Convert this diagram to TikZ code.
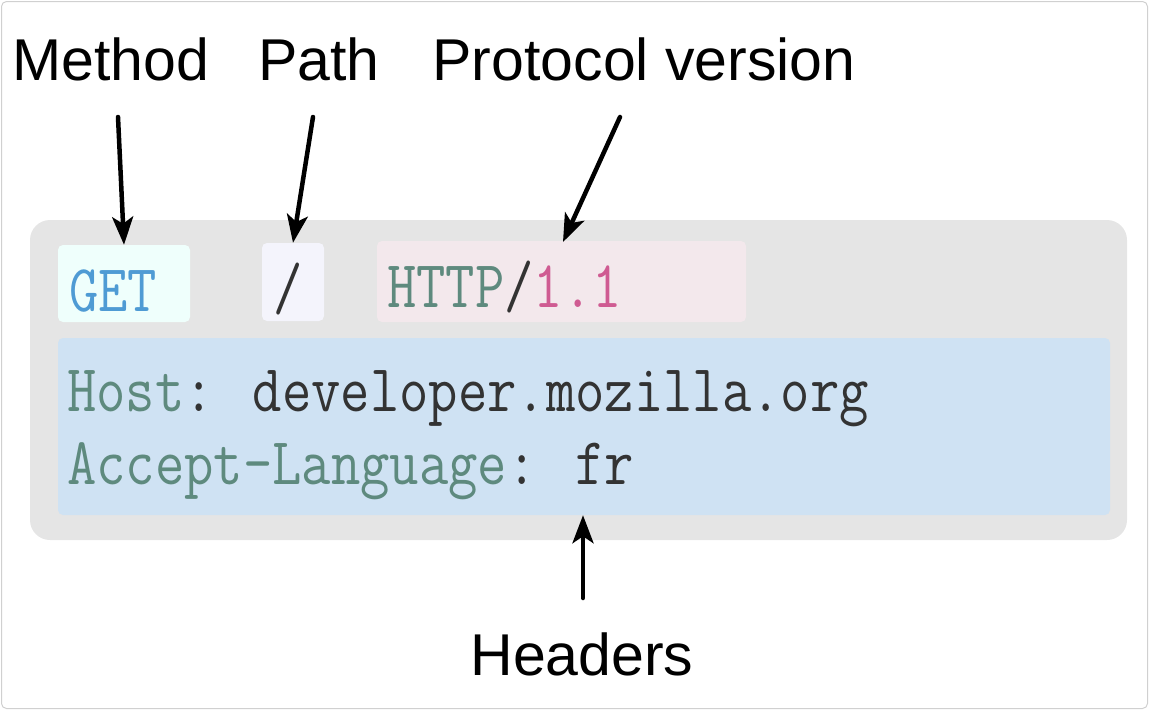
\documentclass[tikz,border=0pt]{standalone}
\usepackage{fontspec}
\usepackage{graphicx}
\usetikzlibrary{arrows.meta}
\setmainfont{Liberation Sans}
\definecolor{framegray}{HTML}{D0D0D0}
\definecolor{bggray}{HTML}{E5E5E5}
\definecolor{getfill}{HTML}{EFFFFC}
\definecolor{getblue}{HTML}{4F9BD4}
\definecolor{pathfill}{HTML}{F4F4FC}
\definecolor{protofill}{HTML}{F3E8EC}
\definecolor{keygreen}{HTML}{5E8A7E}
\definecolor{verpink}{HTML}{CF5B92}
\definecolor{hdrfill}{HTML}{CFE2F3}
\definecolor{valgray}{HTML}{333333}
\newcommand{\reqfont}[1]{\scalebox{0.85}[1]{\ttfamily\fontsize{67}{67}\selectfont #1}}
\begin{document}
\begin{tikzpicture}[x=1pt,y=-1pt,line join=round,line cap=round,>={Stealth[length=28pt,width=21pt,inset=7pt]}]
	\tikzset{every node/.style={inner sep=0pt},
		part/.style={rounded corners=5pt,draw=none},
		label/.style={font=\fontsize{59}{59}\selectfont,anchor=base},
		tag/.style={anchor=base west},
		pointer/.style={->,line width=4.5pt}}
	\useasboundingbox (0,0) rectangle (1149,710);
	\draw[framegray,line width=1pt,rounded corners=5pt] (1.5,1.5) rectangle (1147.5,708.5);
	% message
	\fill[bggray,rounded corners=20pt] (30,220) rectangle (1127,540);
	\node[part,fill=getfill,minimum width=132pt,minimum height=77pt] (get) at (124,283.5) {};
	\node[part,fill=pathfill,minimum width=62pt,minimum height=78pt] (path) at (293,282) {};
	\node[part,fill=protofill,minimum width=369pt,minimum height=81pt] (proto) at (561.5,281.5) {};
	\node[part,fill=hdrfill,minimum width=1052pt,minimum height=177pt] (hdr) at (584,426.5) {};
	\node[tag] (gettxt) at (69,311) {\reqfont{\textcolor{getblue}{GET}}};
	\node[tag] (pathtxt) at (273,309) {\reqfont{\textcolor{valgray}{/}}};
	\node[tag] (prototxt) at (387,307) {\reqfont{\textcolor{keygreen}{HTTP}\textcolor{valgray}{/}\textcolor{verpink}{1.1}}};
	\node[tag] (host) at (67,411) {\reqfont{\textcolor{keygreen}{Host}\textcolor{valgray}{: developer.mozilla.org}}};
	\node[tag] (lang) at (67,484) {\reqfont{\textcolor{keygreen}{Accept-Language}\textcolor{valgray}{: fr}}};
	% labels
	\node[label] (method) at (111,80) {Method};
	\node[label] (pathlbl) at (319,80) {Path};
	\node[label] (protolbl) at (644,80) {Protocol version};
	\node[label] (headers) at (582,675) {Headers};
	\coordinate (m0) at (118,117);
	\coordinate (p0) at (313,117);
	\coordinate (v0) at (620,117);
	\coordinate (v1) at (563,242);
	\coordinate (h0) at (583,598);
	\draw[pointer] (m0) -- (get.north);
	\draw[pointer] (p0) -- (path.north);
	\draw[pointer] (v0) -- (v1);
	\draw[pointer] (h0) -- (hdr.south -| h0);
\end{tikzpicture}
\end{document}
